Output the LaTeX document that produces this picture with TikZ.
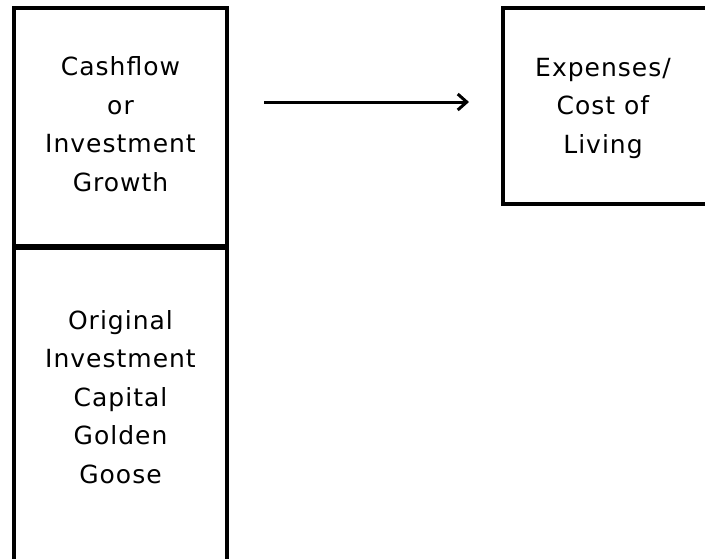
\documentclass[tikz,border=0pt]{standalone}
\usepackage{fontspec}
\setmainfont{DejaVu Sans}[LetterSpace=4]
\usetikzlibrary{arrows.meta}
\begin{document}
\begin{tikzpicture}[x=1pt,y=-1pt,
  panel/.style={draw=black, line width=3.5pt, fill=white, inner sep=0pt},
  label/.style={align=center, font=\fontsize{25}{38.5}\selectfont},
  flow/.style={line width=3pt, -{Straight Barb[length=9pt,width=16pt,line width=3pt]}}]
  \useasboundingbox (0,0) rectangle (705,558);
  \clip (0,0) rectangle (705,558);
  % left column: growth on top of the capital
  \node[panel, minimum width=213pt, minimum height=238pt] (growth) at (120.5,127) {};
  \node[panel, minimum width=213pt, minimum height=360pt] (capital) at (120.5,426) {};
  \draw[line width=3.5pt] (growth.south west) -- (growth.south east);
  % right box
  \node[panel, minimum width=220pt, minimum height=196pt] (expenses) at (613,106) {};
  % texts
  \node[label] (tgrowth) at (120.5,124) {Cashflow\\or\\Investment\\Growth};
  \node[label] (tcapital) at (120.5,397) {Original\\Investment\\Capital\\Golden\\Goose};
  \node[label] (texp) at (603,108) {Expenses/\\Cost of\\Living};
  % arrow
  \coordinate (from) at (264,102);
  \coordinate (to) at (469,102);
  \draw[flow] (from) -- (to);
\end{tikzpicture}
\end{document}
